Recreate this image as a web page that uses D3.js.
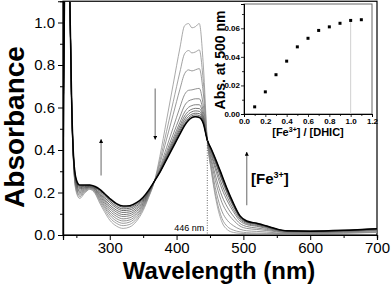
<!DOCTYPE html>
<html>
<head>
<meta charset="utf-8">
<script src="https://cdn.jsdelivr.net/npm/d3@7"></script>
<style>
body { margin: 0; background: #fff; }
svg { font-family: "Liberation Sans", Arial, sans-serif; }
</style>
</head>
<body>
<div id="chart"></div>
<script>
const width = 391,
			height = 287;

// wavelength grid (nm) shared by all spectra
const wavelengths = [230, 233, 236, 240, 243, 246, 250, 255, 262, 270, 278, 285, 292, 300, 310, 320,
	330, 340, 350, 358, 367, 375, 385, 395, 405, 412, 418, 423, 428, 434, 440, 446,
	452, 460, 468, 476, 485, 495, 505, 520, 535, 550, 565, 600, 650, 700];

// spectra, from no Fe3+ (s0) to the last addition (s11)
const s0 = [0.30, 1.40, 1.60, 1.15, 0.60, 0.32, 0.20, 0.172, 0.195, 0.215, 0.195, 0.150, 0.110, 0.070, 0.042, 0.031,
	0.038, 0.065, 0.115, 0.175, 0.254, 0.370, 0.540, 0.710, 0.880, 0.985, 0.995, 0.975, 0.980, 0.995, 0.800, 0.447,
	0.300, 0.150, 0.060, 0.025, 0.012, 0.008, 0.006, 0.005, 0.005, 0.005, 0.005, 0.006, 0.008, 0.012];
const s1 = [0.30, 1.40, 1.60, 1.15, 0.60, 0.325, 0.207, 0.180, 0.200, 0.217, 0.199, 0.158, 0.120, 0.082, 0.055, 0.044,
	0.050, 0.075, 0.123, 0.179, 0.254, 0.349, 0.488, 0.627, 0.767, 0.853, 0.868, 0.857, 0.861, 0.871, 0.723, 0.447,
	0.308, 0.166, 0.078, 0.040, 0.023, 0.015, 0.011, 0.009, 0.008, 0.007, 0.006, 0.007, 0.009, 0.013];
const s2 = [0.30, 1.40, 1.60, 1.15, 0.60, 0.329, 0.214, 0.187, 0.204, 0.220, 0.203, 0.165, 0.130, 0.094, 0.066, 0.055,
	0.061, 0.085, 0.129, 0.183, 0.254, 0.334, 0.451, 0.568, 0.686, 0.759, 0.777, 0.772, 0.777, 0.783, 0.668, 0.447,
	0.324, 0.195, 0.111, 0.069, 0.044, 0.027, 0.020, 0.017, 0.014, 0.010, 0.008, 0.009, 0.011, 0.016];
const s3 = [0.30, 1.40, 1.60, 1.15, 0.61, 0.333, 0.220, 0.193, 0.208, 0.222, 0.206, 0.172, 0.138, 0.104, 0.077, 0.066,
	0.071, 0.094, 0.136, 0.187, 0.254, 0.318, 0.412, 0.506, 0.601, 0.661, 0.681, 0.683, 0.687, 0.690, 0.610, 0.447,
	0.344, 0.232, 0.152, 0.105, 0.070, 0.042, 0.031, 0.026, 0.021, 0.015, 0.011, 0.011, 0.014, 0.020];
const s4 = [0.30, 1.40, 1.60, 1.15, 0.61, 0.337, 0.226, 0.199, 0.212, 0.224, 0.209, 0.178, 0.147, 0.114, 0.088, 0.076,
	0.081, 0.102, 0.142, 0.190, 0.254, 0.310, 0.392, 0.474, 0.556, 0.609, 0.631, 0.637, 0.641, 0.641, 0.580, 0.447,
	0.359, 0.259, 0.183, 0.131, 0.089, 0.054, 0.040, 0.033, 0.026, 0.018, 0.013, 0.013, 0.016, 0.022];
const s5 = [0.30, 1.40, 1.60, 1.15, 0.61, 0.341, 0.232, 0.205, 0.216, 0.226, 0.213, 0.185, 0.155, 0.124, 0.098, 0.087,
	0.091, 0.111, 0.148, 0.194, 0.254, 0.305, 0.380, 0.455, 0.530, 0.578, 0.601, 0.609, 0.613, 0.613, 0.562, 0.447,
	0.375, 0.289, 0.216, 0.160, 0.110, 0.066, 0.049, 0.041, 0.031, 0.021, 0.016, 0.015, 0.018, 0.025];
const s6 = [0.30, 1.40, 1.60, 1.15, 0.61, 0.345, 0.237, 0.211, 0.220, 0.227, 0.216, 0.190, 0.163, 0.133, 0.108, 0.096,
	0.100, 0.119, 0.154, 0.197, 0.254, 0.302, 0.373, 0.443, 0.514, 0.560, 0.583, 0.592, 0.596, 0.595, 0.551, 0.447,
	0.384, 0.306, 0.236, 0.177, 0.122, 0.074, 0.054, 0.045, 0.035, 0.023, 0.017, 0.016, 0.019, 0.026];
const s7 = [0.30, 1.40, 1.60, 1.15, 0.61, 0.348, 0.243, 0.217, 0.223, 0.229, 0.218, 0.196, 0.170, 0.142, 0.117, 0.106,
	0.109, 0.127, 0.160, 0.200, 0.254, 0.300, 0.367, 0.434, 0.501, 0.546, 0.570, 0.580, 0.584, 0.582, 0.543, 0.447,
	0.394, 0.324, 0.256, 0.194, 0.135, 0.081, 0.059, 0.050, 0.038, 0.025, 0.018, 0.017, 0.020, 0.028];
const s8 = [0.30, 1.40, 1.60, 1.15, 0.62, 0.352, 0.248, 0.222, 0.227, 0.231, 0.221, 0.202, 0.178, 0.152, 0.127, 0.115,
	0.118, 0.135, 0.165, 0.203, 0.254, 0.298, 0.362, 0.427, 0.491, 0.534, 0.558, 0.569, 0.573, 0.571, 0.536, 0.447,
	0.397, 0.329, 0.262, 0.200, 0.139, 0.083, 0.061, 0.051, 0.039, 0.026, 0.019, 0.017, 0.021, 0.029];
const s9 = [0.30, 1.40, 1.60, 1.15, 0.62, 0.355, 0.253, 0.227, 0.230, 0.233, 0.224, 0.207, 0.185, 0.160, 0.135, 0.123,
	0.126, 0.142, 0.170, 0.206, 0.254, 0.297, 0.359, 0.421, 0.483, 0.524, 0.549, 0.561, 0.565, 0.562, 0.531, 0.447,
	0.401, 0.337, 0.271, 0.207, 0.145, 0.087, 0.064, 0.053, 0.041, 0.027, 0.019, 0.018, 0.021, 0.029];
const s10 = [0.30, 1.40, 1.60, 1.15, 0.62, 0.358, 0.257, 0.232, 0.233, 0.234, 0.226, 0.212, 0.191, 0.167, 0.143, 0.131,
	0.133, 0.148, 0.175, 0.208, 0.254, 0.295, 0.356, 0.417, 0.477, 0.517, 0.542, 0.554, 0.558, 0.555, 0.526, 0.447,
	0.404, 0.343, 0.278, 0.213, 0.149, 0.089, 0.065, 0.055, 0.042, 0.028, 0.020, 0.018, 0.022, 0.030];
const s11 = [0.30, 1.40, 1.60, 1.15, 0.62, 0.36, 0.26, 0.235, 0.235, 0.235, 0.228, 0.215, 0.195, 0.172, 0.148, 0.136,
	0.138, 0.152, 0.178, 0.210, 0.254, 0.295, 0.355, 0.415, 0.475, 0.515, 0.540, 0.552, 0.556, 0.553, 0.525, 0.447,
	0.405, 0.345, 0.280, 0.215, 0.150, 0.090, 0.066, 0.055, 0.042, 0.028, 0.020, 0.018, 0.022, 0.030];
const spectra = [s0, s1, s2, s3, s4, s5, s6, s7, s8, s9, s10, s11];

// inset: titration at 500 nm
const ratios = [0.1, 0.2, 0.3, 0.4, 0.5, 0.6, 0.7, 0.8, 0.9, 1.0, 1.1];
const abs500 = [0.005, 0.0155, 0.0275, 0.037, 0.047, 0.053, 0.0585, 0.061, 0.0635, 0.0655, 0.066];

const xTicks = [300, 400, 500, 600, 700],
			xMinor = [250, 350, 450, 550, 650],
			yTicks = [0, 0.2, 0.4, 0.6, 0.8, 1.0],
			yMinor = [0.1, 0.3, 0.5, 0.7, 0.9];
const insetXTicks = [0, 0.2, 0.4, 0.6, 0.8, 1.0, 1.2],
			insetXMinor = [0.1, 0.3, 0.5, 0.7, 0.9, 1.1],
			insetYTicks = [0, 0.02, 0.04, 0.06],
			insetYMinor = [0.01, 0.03, 0.05, 0.07];

const isosbestic = 446;

const x = d3.scaleLinear()
		.domain([230, 700])
		.range([63, 377]);

const y = d3.scaleLinear()
		.domain([0, 1.1])
		.range([235, 1.25]);

const svg = d3.select("#chart")
	.append("svg")
		.attr("width", width)
		.attr("height", height);

svg.append("defs")
	.append("clipPath")
		.attr("id", "plot-clip")
	.append("rect")
		.attr("x", x(230))
		.attr("y", y(1.1))
		.attr("width", x(700) - x(230))
		.attr("height", y(0) - y(1.1));

svg.append("defs")
	.append("marker")
		.attr("id", "head")
		.attr("viewBox", "0 0 10 10")
		.attr("refX", 9)
		.attr("refY", 5)
		.attr("markerWidth", 3.2)
		.attr("markerHeight", 3.2)
		.attr("markerUnits", "strokeWidth")
		.attr("orient", "auto")
	.append("path")
		.attr("d", "M0,0L10,5L0,10z")
		.attr("fill", "#000");

// frame
svg.append("rect")
		.attr("x", x(230))
		.attr("y", y(1.1))
		.attr("width", x(700) - x(230))
		.attr("height", y(0) - y(1.1))
		.attr("fill", "none")
		.attr("stroke", "#000")
		.attr("stroke-width", 1.2);

// spectra: lighter grey for early additions, black for the last one
const grey = d3.scaleLinear()
		.domain([0, spectra.length - 2])
		.range(["#9a9a9a", "#3c3c3c"]);

const line = d3.line()
		.x((d, i) => x(wavelengths[i]))
		.y(d => y(d))
		.curve(d3.curveMonotoneX);

svg.append("g")
		.attr("clip-path", "url(#plot-clip)")
	.selectAll("path")
	.data(spectra)
	.enter()
	.append("path")
		.attr("fill", "none")
		.attr("stroke", (d, i) => i === spectra.length - 1 ? "#000" : grey(i))
		.attr("stroke-width", (d, i) => i === spectra.length - 1 ? 1.5 : 0.85)
		.attr("d", line);

// isosbestic marker
svg.append("line")
		.attr("x1", x(isosbestic))
		.attr("x2", x(isosbestic))
		.attr("y1", y(0.447))
		.attr("y2", y(0))
		.attr("stroke", "#444")
		.attr("stroke-width", 0.8)
		.attr("stroke-dasharray", "1,1.5");

svg.append("text")
		.attr("x", x(isosbestic) - 3)
		.attr("y", 231)
		.attr("text-anchor", "end")
		.attr("font-size", 9)
		.text(isosbestic + " nm");

// arrows
const arrows = [
	{ nm: 287, from: 0.28, to: 0.45 },
	{ nm: 368, from: 0.69, to: 0.45 },
	{ nm: 505, from: 0.14, to: 0.39 }
];

svg.append("g")
	.selectAll("line")
	.data(arrows)
	.enter()
	.append("line")
		.attr("x1", d => x(d.nm))
		.attr("x2", d => x(d.nm))
		.attr("y1", d => y(d.from))
		.attr("y2", d => y(d.to))
		.attr("stroke", "#8a8a8a")
		.attr("stroke-width", 1.3)
		.attr("marker-end", "url(#head)");

const fe = svg.append("text")
		.attr("x", 251)
		.attr("y", 184)
		.attr("font-size", 15)
		.attr("font-weight", "bold");
fe.append("tspan").text("[Fe");
fe.append("tspan").attr("dy", -6).attr("font-size", 9).text("3+");
fe.append("tspan").attr("dy", 6).text("]");

// axes
const xAxis = svg.append("g")
		.attr("transform", `translate(0, ${y(0)})`)
		.call(d3.axisBottom(x).tickValues(xTicks).tickSize(5).tickPadding(2).tickFormat(d3.format("d")));

svg.append("g")
		.attr("transform", `translate(0, ${y(0)})`)
		.call(d3.axisBottom(x).tickValues(xMinor).tickSize(3).tickFormat(""));

const yAxis = svg.append("g")
		.attr("transform", `translate(${x(230)}, 0)`)
		.call(d3.axisLeft(y).tickValues(yTicks).tickSize(5).tickPadding(3).tickFormat(d3.format(".1f")));

svg.append("g")
		.attr("transform", `translate(${x(230)}, 0)`)
		.call(d3.axisLeft(y).tickValues(yMinor).tickSize(3).tickFormat(""));

svg.selectAll(".domain").attr("stroke-width", 1.2);
svg.selectAll(".tick line").attr("stroke-width", 1);
xAxis.selectAll("text").attr("font-size", 15).attr("font-family", "Liberation Sans, Arial, sans-serif");
yAxis.selectAll("text").attr("font-size", 15).attr("font-family", "Liberation Sans, Arial, sans-serif");

svg.append("text")
		.attr("transform", "translate(24, 127) rotate(-90)")
		.attr("text-anchor", "middle")
		.attr("font-size", 28)
		.attr("font-weight", "bold")
		.text("Absorbance");

svg.append("text")
		.attr("x", 219)
		.attr("y", 279)
		.attr("text-anchor", "middle")
		.attr("font-size", 24)
		.attr("font-weight", "bold")
		.text("Wavelength (nm)");

// inset
const ix = d3.scaleLinear()
		.domain([0, 1.2])
		.range([244, 372]);

const iy = d3.scaleLinear()
		.domain([0, 0.077])
		.range([114, 4]);

const inset = svg.append("g");

inset.append("rect")
		.attr("x", ix(0))
		.attr("y", iy(0.077))
		.attr("width", ix(1.2) - ix(0))
		.attr("height", iy(0) - iy(0.077))
		.attr("fill", "#fff")
		.attr("stroke", "#666")
		.attr("stroke-width", 1);

inset.append("line")
		.attr("x1", ix(1.0))
		.attr("x2", ix(1.0))
		.attr("y1", iy(abs500[9]))
		.attr("y2", iy(0))
		.attr("stroke", "#d0d0d0")
		.attr("stroke-width", 1);

inset.selectAll(".pt")
	.data(ratios)
	.enter()
	.append("rect")
		.attr("class", "pt")
		.attr("x", d => ix(d) - 1.5)
		.attr("y", (d, i) => iy(abs500[i]) - 1.5)
		.attr("width", 3)
		.attr("height", 3)
		.attr("fill", "#000");

const ixAxis = inset.append("g")
		.attr("transform", `translate(0, ${iy(0)})`)
		.call(d3.axisBottom(ix).tickValues(insetXTicks).tickSize(3).tickPadding(1).tickFormat(d3.format(".1f")));
inset.append("g")
		.attr("transform", `translate(0, ${iy(0)})`)
		.call(d3.axisBottom(ix).tickValues(insetXMinor).tickSize(2).tickFormat(""));

const iyAxis = inset.append("g")
		.attr("transform", `translate(${ix(0)}, 0)`)
		.call(d3.axisLeft(iy).tickValues(insetYTicks).tickSize(3).tickPadding(1).tickFormat(d3.format(".2f")));
inset.append("g")
		.attr("transform", `translate(${ix(0)}, 0)`)
		.call(d3.axisLeft(iy).tickValues(insetYMinor).tickSize(2).tickFormat(""));

inset.selectAll(".domain").attr("stroke-width", 1);
inset.selectAll(".tick line").attr("stroke-width", 0.8);
ixAxis.selectAll("text").attr("font-size", 8).attr("font-weight", "bold").attr("font-family", "Liberation Sans, Arial, sans-serif");
iyAxis.selectAll("text").attr("font-size", 8).attr("font-weight", "bold").attr("font-family", "Liberation Sans, Arial, sans-serif");

inset.append("text")
		.attr("transform", "translate(225, 60) rotate(-90)")
		.attr("text-anchor", "middle")
		.attr("font-size", 14)
		.attr("font-weight", "bold")
		.text("Abs. at 500 nm");

const fx = inset.append("text")
		.attr("x", 308)
		.attr("y", 136)
		.attr("text-anchor", "middle")
		.attr("font-size", 11)
		.attr("font-weight", "bold");
fx.append("tspan").text("[Fe");
fx.append("tspan").attr("dy", -4).attr("font-size", 7).text("3+");
fx.append("tspan").attr("dy", 4).text("] / [DHIC]");
</script>
</body>
</html>
